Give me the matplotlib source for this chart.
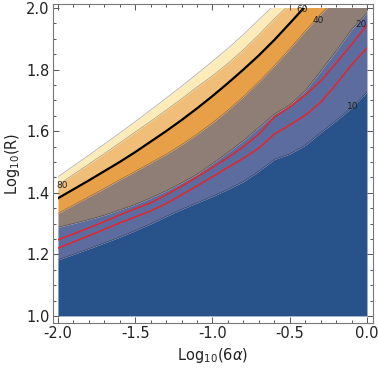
import numpy as np
import matplotlib
matplotlib.use('Agg')
import matplotlib.pyplot as plt
from matplotlib.patches import Rectangle
from matplotlib.ticker import MultipleLocator, FormatStrFormatter

plt.rcParams['font.family'] = 'DejaVu Sans'

# x grid, Log10(6 alpha)
log6a = [-2.0, -1.9, -1.8, -1.7, -1.6, -1.5, -1.4, -1.3, -1.2, -1.1, -1.0,
         -0.9, -0.8, -0.7, -0.6, -0.5, -0.4, -0.3, -0.2, -0.1, 0.0]

# contour curves, Log10(R) (bottom to top)
c10 = [1.182, 1.200, 1.218, 1.237, 1.256, 1.277, 1.299, 1.323, 1.346, 1.367, 1.388,
       1.411, 1.436, 1.470, 1.508, 1.526, 1.554, 1.595, 1.634, 1.675, 1.727]
c20 = [1.288, 1.300, 1.313, 1.327, 1.344, 1.362, 1.383, 1.406, 1.432, 1.460, 1.495,
       1.531, 1.569, 1.612, 1.655, 1.685, 1.731, 1.795, 1.860, 1.930, 1.984]
c40 = [1.333, 1.360, 1.387, 1.414, 1.442, 1.469, 1.497, 1.525, 1.556, 1.590, 1.627,
       1.668, 1.712, 1.760, 1.812, 1.867, 1.925, 1.980, 2.030, 2.080, 2.130]
c60 = [1.382, 1.411, 1.440, 1.470, 1.500, 1.532, 1.566, 1.600, 1.636, 1.674, 1.714,
       1.756, 1.800, 1.846, 1.896, 1.950, 2.005, 2.060, 2.115, 2.170, 2.225]
c80 = [1.425, 1.459, 1.493, 1.527, 1.562, 1.597, 1.632, 1.668, 1.705, 1.743, 1.780,
       1.820, 1.864, 1.913, 1.965, 2.012, 2.060, 2.110, 2.160, 2.210, 2.260]
c100 = [1.452, 1.487, 1.522, 1.558, 1.594, 1.631, 1.669, 1.707, 1.746, 1.786, 1.827,
        1.869, 1.914, 1.962, 2.010, 2.058, 2.107, 2.156, 2.205, 2.255, 2.305]

# the two red curves
red_hi = [1.247, 1.266, 1.286, 1.306, 1.328, 1.348, 1.367, 1.393, 1.421, 1.451, 1.482,
          1.514, 1.549, 1.590, 1.645, 1.678, 1.717, 1.762, 1.821, 1.881, 1.945]
red_lo = [1.220, 1.240, 1.260, 1.281, 1.302, 1.321, 1.341, 1.365, 1.393, 1.422, 1.452,
          1.482, 1.512, 1.545, 1.590, 1.620, 1.651, 1.694, 1.752, 1.815, 1.870]

band_colors = ['#28528a', '#5c6c9e', '#8e7e76', '#e8a048', '#f0be78', '#fdecb9']
labels = ['10', '20', '40', '60', '80']
label_pos = [(-0.091, 1.679), (-0.04, 1.945), (-0.317, 1.958), (-0.421, 1.994), (-1.972, 1.425)]

fig = plt.figure(figsize=(3.79, 3.72), dpi=100)
ax = fig.add_axes([53 / 379, 49 / 372, 320 / 379, 319 / 372])

x = np.array(log6a)
edges = [np.ones_like(x)] + [np.array(c) for c in [c10, c20, c40, c60, c80, c100]]
clip = Rectangle((-2, 1), 2, 1, transform=ax.transData)

for i, col in enumerate(band_colors):
    p = ax.fill_between(x, edges[i], edges[i + 1], color=col, lw=0)
    p.set_clip_path(clip)

# thin edges between the bands
for k, e in enumerate(edges[1:]):
    if k == 3:
        continue
    l, = ax.plot(x, e, color=(0, 0, 0, 0.3), lw=0.6)
    l.set_clip_path(clip)

l, = ax.plot(x, c60, color='black', lw=1.6)
l.set_clip_path(clip)
for r in [red_hi, red_lo]:
    l, = ax.plot(x, r, color='#e8232a', lw=1.1)
    l.set_clip_path(clip)

for t, (px, py) in zip(labels, label_pos):
    ax.text(px, py, t, fontsize=6.5, ha='center', va='center', color='#222222')

ax.set_xlim(-2.032, 0.039)
ax.set_ylim(0.977, 2.013)
ax.xaxis.set_major_locator(MultipleLocator(0.5))
ax.xaxis.set_minor_locator(MultipleLocator(0.1))
ax.yaxis.set_major_locator(MultipleLocator(0.2))
ax.yaxis.set_minor_locator(MultipleLocator(0.05))
ax.xaxis.set_major_formatter(FormatStrFormatter('%.1f'))
ax.yaxis.set_major_formatter(FormatStrFormatter('%.1f'))
ax.tick_params(which='both', direction='in', top=True, right=True, color='#555555',
               labelsize=10.5, labelcolor='#222222', width=0.7, pad=2.5)
ax.tick_params(which='major', length=4)
ax.tick_params(which='minor', length=2.2)
for s in ax.spines.values():
    s.set_color('#777777')
    s.set_linewidth(0.8)

ax.set_xlabel(r'Log$_{10}$(6$\alpha$)', fontsize=10.5, color='#222222', labelpad=3)
ax.set_ylabel(r'Log$_{10}$(R)', fontsize=10.5, color='#222222', labelpad=3)

fig.savefig('out.png', dpi=100)
